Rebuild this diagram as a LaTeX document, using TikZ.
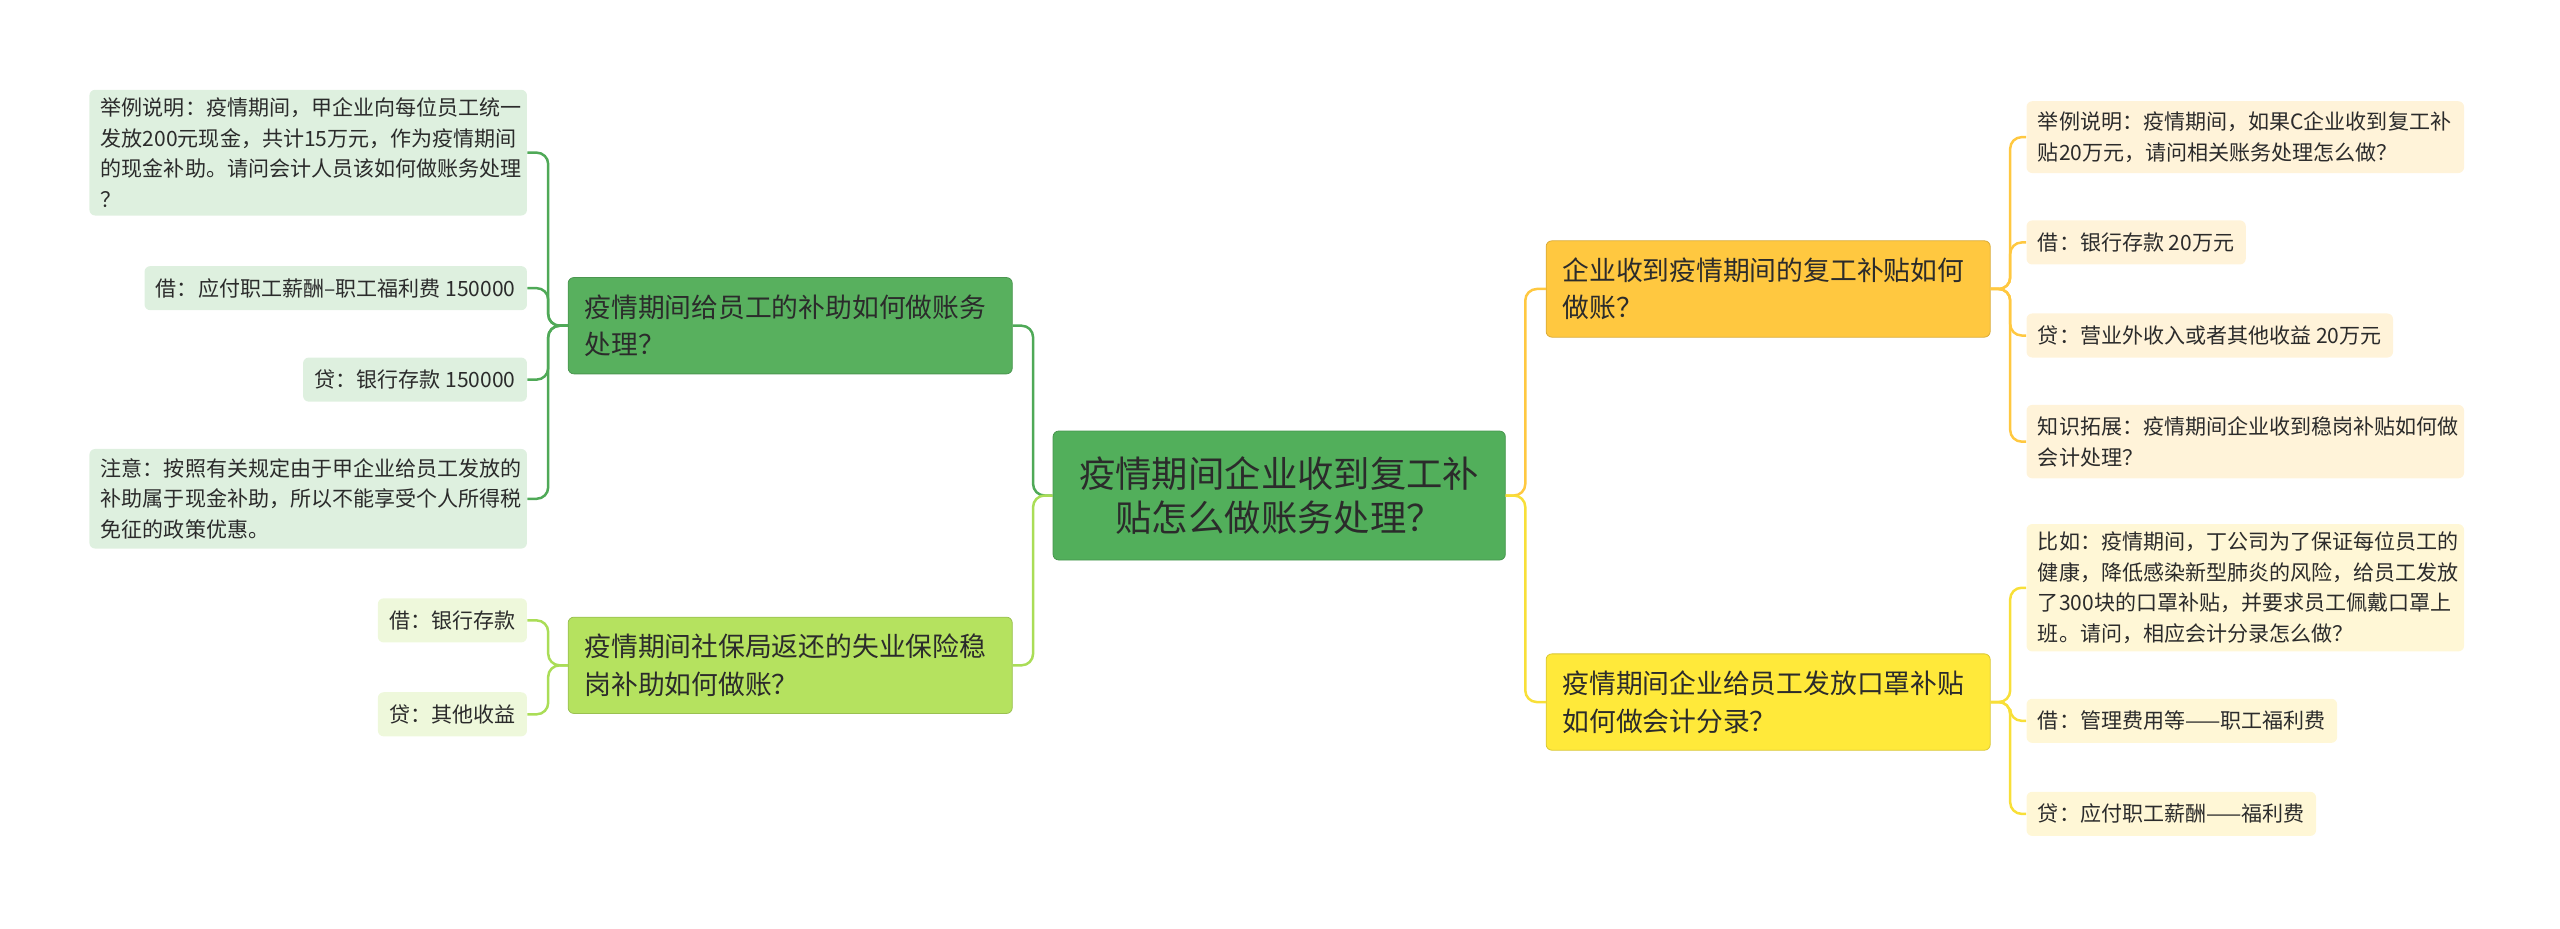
\documentclass[tikz,border=0pt]{standalone}
\usepackage{fontspec}
\setmainfont{Noto Sans CJK SC}
\usetikzlibrary{positioning}
\definecolor{rootfill}{HTML}{52AF5B}
\definecolor{gfill}{HTML}{58B05E}
\definecolor{lgfill}{HTML}{B5E25F}
\definecolor{ofill}{HTML}{FFC840}
\definecolor{yfill}{HTML}{FFE93A}
\definecolor{gleaf}{HTML}{DEF0DF}
\definecolor{lgleaf}{HTML}{EEF8DB}
\definecolor{oleaf}{HTML}{FFF3D9}
\definecolor{yleaf}{HTML}{FFF7D6}
\definecolor{gline}{HTML}{4FA957}
\definecolor{lgline}{HTML}{AADD57}
\definecolor{oline}{HTML}{FFC840}
\definecolor{yline}{HTML}{F8DF38}
\definecolor{txt}{HTML}{2B2B2B}

\begin{document}
\begin{tikzpicture}[
    x=0.03cm, y=-0.03cm,
    every node/.style={text=txt, align=left},
    root/.style={rectangle, rounded corners=3pt, fill=rootfill, draw=rootfill!85!black,
      font=\fontsize{19pt}{23pt}\selectfont, align=center, minimum width=277*0.03cm, minimum height=79*0.03cm},
    topic/.style={rectangle, rounded corners=3pt, font=\fontsize{14pt}{19.6pt}\selectfont,
      text width=252*0.03cm, minimum width=272*0.03cm, minimum height=59*0.03cm, inner xsep=10*0.03cm},
    leaf/.style={rectangle, rounded corners=3pt, font=\fontsize{11pt}{16pt}\selectfont,
      inner xsep=7*0.03cm, minimum height=27*0.03cm},
    wide/.style={leaf, text width=254*0.03cm},
    link/.style={line width=1.3pt, rounded corners=6pt}
]
\useasboundingbox (0,0) rectangle (1568,569);

% root
\node[root] (root) at (783.5,303.5) {疫情期间企业收到复工补\\贴怎么做账务处理？};

% left topics
\node[topic, fill=gfill, draw=gfill!85!black] (gbz) at (484,199.5) {疫情期间给员工的补助如何做账务\\处理？};
\node[topic, fill=lgfill, draw=lgfill!85!black] (sbj) at (484,407.5) {疫情期间社保局返还的失业保险稳\\岗补助如何做账？};

% right topics
\node[topic, fill=ofill, draw=ofill!85!black] (fgbt) at (1083,177) {企业收到疫情期间的复工补贴如何\\做账？};
\node[topic, fill=yfill, draw=yfill!85!black] (kzbt) at (1083,430) {疫情期间企业给员工发放口罩补贴\\如何做会计分录？};

% leaves of gbz
\node[wide, fill=gleaf, anchor=east, minimum height=77*0.03cm] (gbz1) at (323,93.5) {举例说明：疫情期间，甲企业向每位员工统一\\发放200元现金，共计15万元，作为疫情期间\\的现金补助。请问会计人员该如何做账务处理\\？};
\node[leaf, fill=gleaf, anchor=east] (gbz2) at (323,176.5) {借：应付职工薪酬–职工福利费 150000};
\node[leaf, fill=gleaf, anchor=east] (gbz3) at (323,232.5) {贷：银行存款 150000};
\node[wide, fill=gleaf, anchor=east, minimum height=61*0.03cm] (gbz4) at (323,305.5) {注意：按照有关规定由于甲企业给员工发放的\\补助属于现金补助，所以不能享受个人所得税\\免征的政策优惠。};

% leaves of sbj
\node[leaf, fill=lgleaf, anchor=east] (sbj1) at (323,380) {借：银行存款};
\node[leaf, fill=lgleaf, anchor=east] (sbj2) at (323,437.5) {贷：其他收益};

% leaves of fgbt
\node[wide, fill=oleaf, anchor=west, minimum height=44*0.03cm] (fgbt1) at (1241,84) {举例说明：疫情期间，如果C企业收到复工补\\贴20万元，请问相关账务处理怎么做？};
\node[leaf, fill=oleaf, anchor=west] (fgbt2) at (1241,148.5) {借：银行存款 20万元};
\node[leaf, fill=oleaf, anchor=west] (fgbt3) at (1241,205.5) {贷：营业外收入或者其他收益 20万元};
\node[wide, fill=oleaf, anchor=west, minimum height=45*0.03cm] (fgbt4) at (1241,270.5) {知识拓展：疫情期间企业收到稳岗补贴如何做\\会计处理？};

% leaves of kzbt
\node[wide, fill=yleaf, anchor=west, minimum height=78*0.03cm] (kzbt1) at (1241,360) {比如：疫情期间，丁公司为了保证每位员工的\\健康，降低感染新型肺炎的风险，给员工发放\\了300块的口罩补贴，并要求员工佩戴口罩上\\班。请问，相应会计分录怎么做？};
\node[leaf, fill=yleaf, anchor=west] (kzbt2) at (1241,441.5) {借：管理费用等——职工福利费};
\node[leaf, fill=yleaf, anchor=west] (kzbt3) at (1241,498.5) {贷：应付职工薪酬——福利费};

% root links
\draw[link, gline] (root.west) -- ++(-12,0) |- (gbz.east);
\draw[link, lgline] (root.west) -- ++(-12,0) |- (sbj.east);
\draw[link, oline] (root.east) -- ++(12,0) |- (fgbt.west);
\draw[link, yline] (root.east) -- ++(12,0) |- (kzbt.west);

% leaf links
\foreach \n in {gbz1,gbz2,gbz3,gbz4}
  \draw[link, gline] (gbz.west) -- ++(-12,0) |- (\n.east);
\foreach \n in {sbj1,sbj2}
  \draw[link, lgline] (sbj.west) -- ++(-12,0) |- (\n.east);
\foreach \n in {fgbt1,fgbt2,fgbt3,fgbt4}
  \draw[link, oline] (fgbt.east) -- ++(12,0) |- (\n.west);
\foreach \n in {kzbt1,kzbt2,kzbt3}
  \draw[link, yline] (kzbt.east) -- ++(12,0) |- (\n.west);
\end{tikzpicture}
\end{document}
